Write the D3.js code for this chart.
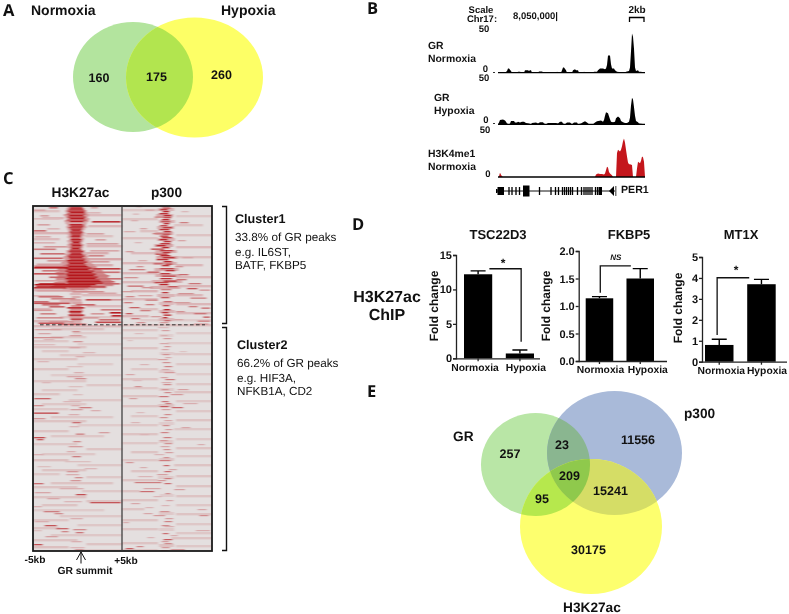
<!DOCTYPE html>
<html><head><meta charset="utf-8">
<script src="https://cdn.jsdelivr.net/npm/d3@7/dist/d3.min.js"></script>
<style>
html,body{margin:0;padding:0;background:#fff}
svg{display:block;filter:blur(0.3px)}
text{font-family:"Liberation Sans",Arial,sans-serif;fill:#111;text-rendering:geometricPrecision}
.b{font-weight:700}
.letter{font-family:"Open Sans",sans-serif;font-weight:700;font-size:16.5px;fill:#111}
</style></head><body>
<svg id="c" width="789" height="614"></svg>
<script>
// ---------- Panel A / E venn counts ----------
const vennALabels=["160","175","260"];
const vennENumbers=["257","23","11556","209","95","15241","30175"];

// ---------- Panel B tracks [position, signal] ----------
const grNormoxia=[[0,0],[7,0],[9,2],[10,5],[11,5],[13,2],[14,0],[19,0],[20,1],[22,1],[24,0],[26,0],[27,3],[30,3],[31,2],[32,3],[33,3],[34,0],[40,0],[41,1.5],[44,1.5],[46,0],[58,0],[59,1],[61,0],[63,0],[64,3],[65,6],[66,6],[68,3],[69,0],[74,0],[75,3],[77,4],[78,3],[80,3],[81,0],[85,0],[86,1],[88,0],[95,0],[96,1],[99,1],[100,3],[102,5],[105,5],[107,4],[108,5],[109,9],[110,20],[112,20],[113,10],[114,5],[116,5],[117,3],[119,1],[127,0],[128,1],[131,2],[132,6],[133,25],[134,46],[135,42],[136,28],[137,6],[138,2],[140,3],[141,1],[143,1],[147,0]];
const grHypoxia=[[0,0],[1,2],[2,5],[5,5.5],[7,4.5],[8,3],[9,1],[11,0],[12,1],[13,4],[16,4],[17,2],[19,2],[20,3],[22,2],[24,3],[26,3],[28,1.5],[31,1],[33,0],[34,1.5],[38,2],[40,1],[42,2.5],[45,2.5],[46,1],[48,0],[50,1.5],[58,1.5],[60,1],[62,3],[64,3],[65,1],[67,0],[69,2],[72,2],[74,0],[76,2],[79,2],[80,0],[83,1],[85,2.5],[87,3.5],[89,2],[91,0],[95,0],[97,2],[99,3.5],[103,4.5],[105,3],[106,5],[107,10],[108,14],[110,13],[112,6],[113,3],[115,2.5],[117,3],[118,7],[120,9],[122,7],[123,4],[125,2.5],[127,1.5],[129,1.5],[131,3],[132,8],[133,22],[134,31],[135,29],[136,20],[137,10],[138,4],[140,2.5],[141,1],[147,0]];
const h3k4me1=[[0,0],[0.8,0],[1.5,3],[2,5],[3,2.5],[4,1],[5,0],[97,0],[98,3],[100,4],[102,3.5],[104,3.5],[106,3],[107,4],[108,8],[109,12],[110,11],[111,6],[112,4],[114,2],[115,0],[118,0],[119,28],[120,32],[122,30],[123,32],[124,36],[125,42],[126,45],[127,40],[128,32],[129,24],[130,17],[131,15],[132,15],[134,14],[135,0],[138,0],[139,10],[140,18],[141,17],[142,16],[143,19],[144,24],[145,23],[146,18],[147,0]];
// gene model exons in track positions
const perThickExons=[[-2,-0.5],[-0.5,6]];
const perTicks=[11,14,18,21.5,41.5,53,57.5,60.5,64.5,66.5,68.5,70.5,72.5,74.5,79.5,83.5,86,88,90,92,94,97.5,99.5];
const perBox=[[25,31.5]];

// ---------- Panel C heatmap streaks [row, fromKb, toKb, intensity] ----------
const h3Halo=[[0,-1.5,1,.4],[2,-1.6,1.2,.45],[4,-1.7,1.4,.5],[6,-1.6,1.5,.45],[8,-1.9,1.6,.5],[10,-1.7,1.5,.5],[12,-1.6,1.7,.45],[14,-1.8,1.6,.5],[16,-1.7,1.4,.4],[18,-1.5,1.3,.5],[20,-1.6,1.4,.45],[22,-1.5,1.2,.4],[24,-1.4,1,.45],[26,-1.6,1.2,.4],[28,-1.4,1.1,.45],[30,-1.5,1,.35],[32,-1.3,1.1,.4],[34,-1.5,1,.4],[36,-1.4,.9,.35],[38,-1.5,1.1,.45],[40,-1.5,1,.4],[42,-1.3,.9,.4],[44,-1.6,1.2,.45],[46,-1.6,1.2,.4],[48,-1.7,1.4,.5],[50,-1.9,1.5,.5],[52,-1.8,1.6,.5],[54,-2,1.7,.55],[56,-2.2,2,.5],[58,-2,2.2,.55],[60,-2.4,2.5,.6],[62,-2.6,3,.6],[64,-2.4,3.2,.6],[66,-2.8,3.4,.6],[68,-2.6,3.6,.65],[70,-2.6,3.8,.65],[72,-2.8,4,.6],[74,-2.6,4.2,.65],[76,-3,4.2,.65],[78,-3,4.4,.6],[80,-3.4,3.6,.6],[82,-2,2.4,.4],[84,-1.5,1.5,.25],[87,-1.2,.8,.3],[90,-1,.7,.35],[93,-1.2,.8,.4],[96,-1,.9,.4],[99,-1.1,.8,.5],[102,-1.2,.9,.55],[104,-1.3,1,.55],[106,-1.2,.8,.6],[108,-1.4,1,.55],[110,-1.2,.8,.45],[112,-1.1,.9,.45],[114,-1,.8,.35],[116,-1.2,.8,.3]];
const h3Cluster1Core=[[0,-.9,.5,.85],[1.5,-1,.7,.95],[3,-1.1,.8,.8],[4.5,-1.2,.9,.9],[6,-1,.9,.95],[7.5,-1.3,1,.75],[9,-1.1,.8,.95],[10.5,-1.2,1,.85],[12,-1,.9,.95],[13.5,-1.3,1.1,.7],[15,-1,.8,.95],[16.5,-1.1,.8,.25],[18,-1,.7,.9],[19.5,-.9,.8,.95],[21,-1.1,.7,.8],[22.5,-.9,.6,.95],[24,-.8,.5,.85],[25.5,-1,.7,.95],[27,-.9,.6,.8],[28.5,-.8,.5,.95],[30,-.9,.5,.9],[31.5,-.8,.4,.7],[33,-.9,.6,.95],[34.5,-.8,.5,.9],[36,-.7,.4,.95],[37.5,-.9,.5,.85],[39,-.8,.6,.95],[40.5,-.9,.5,.8],[42,-.8,.4,.95],[43.5,-1,.6,.9],[45,-1.1,.8,.85],[46.5,-.9,.6,.95],[48,-1,.7,.9],[49.5,-1.2,.9,.95],[51,-1.1,.7,.9],[52.5,-1,1,.85],[54,-1.3,.9,.95],[55.5,-1.2,1.2,.9],[57,-1.1,.9,.95],[58.5,-1.3,1.1,.85],[60,-1.2,1.3,1],[61.5,-1.5,1.7,.95],[63,-1.3,1.4,1],[64.5,-1.5,2,.9],[66,-1.2,1.8,1],[67.5,-1.4,2.2,.95],[69,-1.3,2,1],[70.5,-1.2,2.4,.95],[72,-1.5,2.2,1],[73.5,-1.2,2.6,.9],[75,-1.3,2.8,1],[76.5,-1.2,3,.95],[78,-5,2.2,1],[79.5,-4.8,1.6,1],[81,-1.2,1.4,.7],[82.5,-.9,.9,.5]];
const h3Cluster1Side=[[1,-3.2,-2.2,.5],[1,1.5,2.3,.25],[3.5,-5,-3.6,.3],[6,1.2,2.6,.2],[9,-4.2,-3.2,.3],[12,-5,-2,.18],[15,1.6,4.9,.85],[18,-4.5,-3.1,.3],[22,-3.4,-2,.2],[24,-5,-3.5,.55],[27,1,3,.3],[30,-4.8,-3,.25],[33,2,3.2,.3],[36,-5,-2.5,.22],[37,1,4.6,.3],[40,-3.8,-1.2,.35],[42.5,-5,-2.4,.5],[44,1.4,4.7,.28],[47,-4.2,-1.4,.55],[49,1.2,3,.45],[51.5,-5,-1.6,.6],[54,-3.4,-1.5,.35],[55,1.4,3.6,.35],[57.5,-4.6,-1.5,.3],[59.5,-4.9,-1.2,.55],[61,-5,-1,.95],[62,1.7,4.9,.8],[64,-4,-1.5,.5],[65.5,2,4.8,.55],[67,-5,-1.4,.7],[69,2,3.6,.5],[70.5,-3.2,-1.2,.6],[72,2.2,5,.55],[74,-4.8,-1.5,.3],[75,2.8,4.2,.6],[77,-4.4,-1.3,.8],[77,3,4.8,.6],[80,1.4,3.2,.7],[81,-5,-1.2,.85],[84,-4.6,-.2,.3],[85,-.6,3,.4],[86.5,1.2,4.4,.28],[89,-5,-2,.22],[90,-4.4,-1.6,.55],[92,-3,-.2,.45],[93,.9,3.8,.75],[93,3.8,5,.35],[95,-5,-3.2,.55],[96.5,-5,-.8,.7],[98,-.2,2,.6],[98,-4,-2,.55],[100,-3.2,-1.4,.6],[101,-1.2,.8,.85],[103,2.6,5,.5],[103.5,-5,-2.8,.35],[105,-1,.5,.95],[106,3.6,5,.95],[107,-4.2,-2.4,.45],[107,1.5,3,.35],[108.5,-1,.8,.85],[109,3.8,5,.9],[111,-4.6,-1.6,.4],[111,.6,2.4,.35],[112.5,-.8,.6,.75],[113,2.4,4.8,.55],[115,-3.2,-.4,.35],[115.5,2,5,.75],[116.5,-4.4,-1.5,.7],[117.5,-2,1,.6]];
const h3Cluster2=[[123,-4.8,-1.8,.4],[125,-.6,.3,.5],[127,-4.4,-3,.35],[129,-.9,.5,.4],[131,-5,-1.6,.5],[133,-3.8,-2.6,.25],[135,-.5,.6,.45],[138,-5,-2.5,.22],[141,-.9,.3,.35],[146,.6,2,.25],[150,-.2,.8,.3],[155,-4.5,-3.2,.25],[160,-1.2,.6,.2],[166,-.4,.7,.3],[170,-1.2,.6,.35],[172,-.3,1,.5],[176,-4,-3,.25],[180,-1,.6,.2],[188,-.5,.6,.2],[192,-4.9,-3,.75],[195,-1.6,.4,.25],[199,-5,-3.8,.5],[199,-.7,.3,.3],[201,.2,1.6,.6],[203,-.8,.6,.4],[204,1.5,2.6,.3],[206.5,-5,-2.1,.95],[208,-1,.2,.3],[212,-5,-3.6,.45],[216,-.6,.4,.7],[220,-.9,.2,.25],[226,2.4,3.6,.4],[227.5,-.2,.8,.6],[231,-5,-3.6,.9],[233,-4.6,-3.8,.8],[235,-.5,.4,.5],[240,-1,.6,.4],[245,-1.2,-.2,.3],[248,-5,-3.8,.3],[250,-.6,.4,.6],[255,-1.4,1.5,.2],[260,-4.5,-3,.2],[262,.8,2.2,.25],[265,-1.2,.1,.45],[268,-1.3,.2,.3],[271,-.3,.6,.5],[274,-.8,.4,.45],[277,-5,-3.8,.7],[282,-2,.7,.3],[286,-4.8,-3,.35],[288,-.2,1,.9],[292,-3.4,-2,.35],[295,-1.5,.5,.25],[296,1.4,4.9,.85],[300,-5,-4,.3],[305,-3.8,-2,.6],[307,-2.6,-1.6,.5],[312,-.8,.6,.3],[315,-4.8,-3.2,.3],[319,-3.7,-2.3,.85],[322,-2.4,-1,.75],[323,-.5,1,.5],[324,-5,-4,.2],[325,-1.8,-1,.55],[326,-.2,.7,.65],[330,-3.6,-2.2,.4],[335,-.7,.5,.3],[338,-5,-3.9,.9],[341,-.8,.8,.25],[343,-.3,.7,.4]];
const p3Halo=[[2,-1.1,.9,.3],[8,-1.3,.8,.35],[14,-1,1,.3],[20,-1.2,.9,.35],[26,-1.4,.8,.35],[32,-1.2,1,.3],[38,-1.5,.8,.4],[44,-1.4,1.2,.35],[50,-1.3,1.3,.4],[56,-1.6,1.2,.35],[62,-1.5,1.4,.35],[68,-1.4,1.6,.35],[74,-1.8,1.8,.35],[80,-2,1.6,.35],[88,-1.2,1,.3],[96,-1,.9,.25],[104,-1,1,.3],[112,-1,.9,.3],[128,-1,.8,.12],[146,-.9,.9,.14],[164,-1,.9,.16],[182,-1,.9,.15],[198,-1.1,.9,.2],[216,-1,.9,.14],[234,-1,.8,.15],[252,-1,.9,.18],[270,-1.1,.9,.15],[288,-.9,.9,.14],[306,-1,.9,.16],[322,-1,.9,.15],[338,-1,.9,.2]];
const p3Cluster1=[[0,-.6,.3,.5],[0,-3.4,-2.8,.3],[1.5,-.5,.4,.7],[3,-.8,.1,.85],[3.5,-2.4,-1.4,.3],[5,-.5,.3,.95],[5,1.6,2.4,.2],[7,-.9,.2,.9],[7.5,-3.8,-3.1,.2],[9,-.4,.5,.95],[10.5,-1.4,-.3,.5],[11,-.4,.5,.75],[13,-.6,.3,.95],[14,-4,-3.2,.25],[15,-.7,.4,.7],[16,1.4,2.4,.5],[17,-.4,.3,.9],[19,-.8,.1,.75],[21,-.5,.6,.85],[22,-3,-2.2,.3],[23,-.9,.3,.9],[25,-.4,.5,.9],[25,-4.8,-3.5,.25],[27,-1.6,-.5,.5],[27.5,-.5,.4,.8],[29.5,-.8,.2,.9],[31,-.6,.6,.85],[33,-.9,.1,.95],[34,1.2,2.1,.3],[35,-.4,.5,.9],[36,-3.6,-2.8,.2],[37,-.8,.4,.85],[39,-1.2,-.1,.95],[41,-.6,.3,.95],[42.5,-1.8,-.3,.8],[44,-.8,.7,.85],[45,-4.6,-3.7,.35],[46,-.5,.4,.9],[47.5,-1.3,.1,.85],[49,-.8,.4,.95],[51,-.5,.9,.9],[51,1.7,2.9,.3],[53,-1.2,.2,.9],[54,-3.2,-2.2,.25],[55,-.4,.6,.95],[57,-1.5,-.4,.6],[57.5,-.2,.6,.85],[59,-.6,.3,.9],[60,-3.4,-2.6,.4],[60,.9,1.8,.4],[62,-.8,.8,.8],[63,-4.2,-2.4,.5],[64,-.2,.9,.9],[65.5,-2.2,-.8,.7],[67,-.8,.4,.85],[68,1.3,2.4,.6],[69.5,-.6,1,.8],[71,-4.8,-3.2,.4],[72,-.8,.6,.9],[73,1,2.2,.55],[74.5,-.4,1.1,.9],[76,-1.4,.2,.8],[77,2.4,3.8,.55],[78,-.9,.2,.95],[79.5,-4.4,-2.6,.6],[80,.1,1.2,.7],[81,-2.8,-1.6,.4],[82,2.2,3.4,.7],[83,-.7,.5,.5],[83.5,3.6,4.8,.4],[85,-5,-3.8,.35],[86,-.6,.2,.85],[87,1.2,3,.4],[89,-3.2,-1.6,.3],[90,-4.6,-3.6,.45],[91,-.7,.3,.7],[91.5,2.6,4.4,.5],[93.5,-2.4,-1,.5],[95,-.4,.6,.6],[96,-4.8,-3.8,.5],[96,.8,2.6,.35],[98,-2.4,-1.4,.5],[99,-.5,.3,.75],[100,2.4,3.4,.5],[101,-4.2,-3,.65],[101.5,3.8,4.8,.6],[103,-.4,.4,.95],[104,-3,-1.8,.5],[105,1,2,.4],[106,-.6,.2,.9],[107,-4.6,-3.8,.7],[107,3,4.4,.55],[108.5,-.4,.5,.95],[110,-1.8,-.6,.35],[110.5,4,4.8,.7],[111,-.5,.1,.9],[112,-4,-3,.55],[113,.8,1.8,.3],[114,-.3,.4,.6],[114.5,3.4,4.8,.5],[116,-3.4,-2.4,.4],[116,-.8,.2,.35],[117.5,3,4.6,.4]];
const p3Cluster2=[[121,-1,.2,.25],[124,-.6,.3,.45],[127,-3.6,-2.6,.25],[129,-.7,.1,.35],[132,-.4,.5,.5],[134,-4.4,-3.8,.2],[137,-.8,.2,.4],[140,-.3,.4,.5],[143,-.6,.2,.4],[145,1.4,2.2,.2],[148,-.5,.3,.55],[151,-.2,.5,.35],[153,-1,.1,.45],[156,-.5,.4,.55],[158,-3,-2,.3],[160,-.3,.6,.65],[163,-.6,.3,.4],[166,-.3,.9,.5],[168,-4.6,-3.6,.4],[171,-.7,.1,.45],[173,-.2,.9,.7],[174,-3.8,-2.8,.25],[176,-.6,.5,.35],[178,-.4,.5,.6],[180,-3.6,-2.8,.55],[183,-.6,.2,.55],[183,1.2,2.4,.45],[186,-.3,.5,.6],[188,.4,1.8,.5],[190,-.9,.2,.75],[192,-4.2,-3.3,.45],[195,-.6,.2,.75],[197,-.2,.5,.7],[197,1.8,3.4,.35],[200,-.8,.2,.95],[201,.5,1.8,.85],[203,-.6,.4,.45],[206,-3.4,-2.5,.25],[208,-.3,.5,.6],[211,-.8,.1,.55],[214,-.3,.6,.4],[216,-4,-3,.3],[219,-.5,.3,.6],[221,1.6,2.6,.4],[223,-.2,.6,.45],[226,-.7,.2,.65],[228,-3,-2,.3],[231,-.4,.5,.7],[234,-.8,.1,.5],[237,-.3,.6,.55],[238,3.4,4.2,.35],[240,-.7,.3,.4],[243,-.4,.4,.55],[246,-.2,.7,.45],[248,-1.4,-.3,.3],[251,-.4,.3,.55],[254,-.9,.4,.7],[256,-4.6,-3.7,.5],[259,-.4,.3,.85],[261,-3,-2.2,.35],[263,.2,1.1,.4],[265,-.3,.5,.8],[268,-1.1,.1,.45],[270,-3.2,-1.6,.3],[272,-.3,.5,.7],[274,-1,-.1,.5],[276,-3.6,-.6,.7],[277,-.3,.5,.8],[282,-2.6,-.7,.4],[283,.8,2,.45],[285,-3,-1.4,.8],[287,-.2,.4,.55],[290,-1.5,-.6,.3],[294,-.1,.7,.4],[297,-4,-3,.4],[299,-.6,.3,.3],[301,-2.4,-1.5,.3],[303,3.4,4.4,.4],[305,-.8,.3,.55],[307,-2.6,-1.6,.4],[309,-1.5,-.2,.5],[309,3.6,4.6,.6],[312,-.2,.7,.45],[315,-.3,.6,.65],[316,-4.9,-4.2,.35],[319,-.6,.3,.6],[320,-.3,.8,.35],[324,3.2,4.8,.35],[327,-.5,.2,.8],[329,.4,1.2,.35],[331,-2.2,-1.4,.3],[333,-.4,.6,.95],[335,-.6,.2,.45],[337,-.3,.6,.6],[340,-3.4,-2.6,.6],[341,-.6,.3,.5],[342,-4.6,-3.7,.9],[343,.4,2,.5],[344,-.8,.2,.7]];
// faint mottled rows read from the grey background
const faintH=[[4,-5,-2,.15],[8,1,5,.18],[11,-4,-1.5,.2],[19,1.2,5,.2],[26,-5,-1,.22],[29,.8,4,.15],[32,-5,-2,.18],[39,1,5,.2],[46,.9,3.5,.25],[52,1,5,.28],[58,1,4,.25],[83,-5,-1,.2],[88,.5,5,.18],[94,-2,.5,.2],[99,1,5,.18],[102,-5,-3,.2],[110,-2,5,.14],[114,-5,-1,.2],[119,-5,5,.18],[122,-3,3,.14],[126,-.5,5,.1],[130,-3,1,.12],[134,-5,-1,.12],[137,0,5,.1],[140,-5,1,.14],[144,-4,-1,.12],[148,-2,5,.12],[152,-5,0,.14],[157,0,4,.1],[162,-5,-1,.14],[168,-3,5,.1],[174,-5,1,.13],[178,1,5,.12],[183,-4,0,.12],[187,-5,-2,.14],[193,-1,5,.12],[197,-4,1,.12],[202,-5,-1,.12],[210,-3,4,.12],[214,-5,1,.14],[218,0,5,.1],[224,-5,-1,.14],[229,-3,3,.12],[237,-5,0,.12],[242,1,5,.14],[247,-4,2,.12],[253,-5,-1,.16],[258,0,5,.12],[263,-4,1,.14],[267,-5,-2,.12],[270,1,5,.12],[276,-3,4,.14],[280,-5,0,.14],[284,.5,5,.12],[290,-5,1,.14],[294,1,5,.14],[298,-4,0,.14],[303,-5,3,.1],[309,-2,5,.12],[313,-5,-1,.13],[318,0,5,.12],[321,-5,-2,.14],[328,-3,5,.12],[333,-5,0,.14],[337,1,5,.14],[340,-5,-1,.16],[343,0,5,.1]];
const faintP=[[3,-5,-1,.12],[9,1,5,.12],[12,-5,-1,.14],[18,.8,4,.14],[24,-3,-1,.15],[28,1,5,.14],[31,-5,-1,.15],[40,1,5,.18],[46,-4,-1,.18],[50,1,5,.16],[56,-5,-1,.2],[58,1,4,.2],[66,-5,-1,.2],[70,1,5,.2],[75,-5,-1,.18],[79,1.2,5,.2],[84,-4,-1,.22],[88,1,4,.2],[92,-5,-1,.18],[97,1,5,.2],[102,-3,-1,.16],[106,1,5,.18],[109,-5,-2,.2],[113,-3,5,.1],[118,-5,5,.16],[123,-5,-1,.12],[126,1,5,.1],[131,-5,-1,.12],[136,0,5,.1],[141,-5,-1,.14],[147,.7,5,.12],[152,-5,-1,.12],[157,1,5,.12],[162,-4,-1,.12],[167,1,5,.1],[172,-5,-1,.14],[177,1,5,.12],[181,-5,-1,.12],[185,.8,5,.14],[189,-5,-1,.14],[194,1,5,.12],[199,-5,-1,.14],[204,1,5,.12],[209,-4,-1,.12],[213,1,5,.14],[218,-5,-1,.12],[222,.8,5,.12],[227,-5,-1,.14],[232,1,5,.12],[236,-5,-1,.12],[241,1,5,.14],[245,-4,-1,.14],[249,1,5,.12],[253,-5,-1,.12],[258,.8,5,.14],[264,-4,-1,.14],[269,1,5,.14],[273,-5,-1,.14],[279,1,5,.14],[284,-5,-3,.14],[289,1,5,.14],[293,-5,-1,.14],[298,1,5,.12],[302,-5,-2.5,.14],[307,1,5,.14],[313,-5,-1,.14],[317,1,5,.12],[322,-5,-1,.14],[326,1,5,.12],[331,.5,5,.14],[336,-5,-1,.14],[339,1,5,.12],[343,-5,-1,.12]];

// ---------- Panel D bars ----------
const barCategories=["Normoxia","Hypoxia"];
const barTitles=["TSC22D3","FKBP5","MT1X"];
const barValues=[[12.2,0.7],[1.14,1.5],[0.8,3.7]];
const barErrors=[[12.7,1.2],[1.17,1.68],[1.07,3.93]];
const barYMax=[15,2,5];
const barTickValues=[[0,5,10,15],[0,.5,1,1.5,2],[0,1,2,3,4,5]];
const barSignif=["*","NS","*"];

// ---------- drawing ----------
const svg=d3.select("#c");
const defs=svg.append("defs");
const f=defs.append("filter").attr("id","soft").attr("x","-5%").attr("y","-5%").attr("width","110%").attr("height","110%");
f.append("feGaussianBlur").attr("stdDeviation","0.9 0.4");
defs.append("clipPath").attr("id","heatClip").append("rect").attr("x",33).attr("y",206).attr("width",179).attr("height",345);
let clipN=0;
function txt(p,s,x,y,size,bold,anchor){
  return p.append("text").text(s).attr("x",x).attr("y",y).attr("font-size",size)
    .attr("class",bold?"b":null).attr("text-anchor",anchor||"start").attr("dominant-baseline","middle");
}
function clipFor(e){
  const id="cl"+(clipN++);
  defs.append("clipPath").attr("id",id).append("ellipse").attr("cx",e.cx).attr("cy",e.cy).attr("rx",e.rx).attr("ry",e.ry);
  return id;
}
function regionFill(sets,color){
  let g=svg;
  sets.slice(1).forEach(e=>{g=g.append("g").attr("clip-path",`url(#${clipFor(e)})`);});
  const e=sets[0];
  g.append("ellipse").attr("cx",e.cx).attr("cy",e.cy).attr("rx",e.rx).attr("ry",e.ry).attr("fill",color);
}
for(const [l,x,y] of [["A",3,12],["B",367,10],["C",3,180],["D",352,226],["E",367,393]])
  svg.append("text").attr("class","letter").text(l).attr("x",x).attr("y",y).attr("dominant-baseline","middle");

// A
const aG={cx:133,cy:77,rx:60,ry:55},aY={cx:194.5,cy:77.5,rx:68.5,ry:60};
regionFill([aG],"#b3e49e");regionFill([aY],"#fdff66");regionFill([aG,aY],"#b2e54f");
txt(svg,"Normoxia",31,11.5,14,1);txt(svg,"Hypoxia",221,11.5,14,1);
[[99,79],[156.5,78],[221.5,76]].forEach((p,i)=>txt(svg,vennALabels[i],p[0],p[1],12.5,1,"middle"));

// E
const eG={cx:535.5,cy:464.5,rx:54.5,ry:51.5},eB={cx:614.5,cy:453,rx:67.5,ry:62},eY={cx:591,cy:526.5,rx:71,ry:67.5};
regionFill([eG],"#b9e6a6");regionFill([eB],"#a9bad9");regionFill([eY],"#fdff6e");
regionFill([eG,eB],"#8ab690");regionFill([eG,eY],"#b6e84d");regionFill([eB,eY],"#d5dd66");regionFill([eG,eB,eY],"#8fc94c");
[[510,455],[562,445.5],[638,440.5],[569.5,476.5],[542,500],[610.5,491.5],[588.5,551]].forEach((p,i)=>txt(svg,vennENumbers[i],p[0],p[1],12.5,1,"middle"));
txt(svg,"GR",453,437,13.7,1);txt(svg,"p300",684,414.5,13.7,1);txt(svg,"H3K27ac",563,608,13.7,1);

// B
const bX=d3.scaleLinear().domain([0,147]).range([498,645]);
const tracks=[[grNormoxia,72.7,"#000"],[grHypoxia,124.3,"#000"],[h3k4me1,177,"#c4161c"]];
tracks.forEach(([d,base,col])=>{
  const y=d3.scaleLinear().domain([0,50]).range([base,base-42.7]);
  svg.append("path").datum(d).attr("fill",col)
    .attr("d",d3.area().x(p=>bX(p[0])).y0(y(0)).y1(p=>y(p[1])));
  svg.append("line").attr("x1",bX(0)).attr("x2",bX(147)).attr("y1",base).attr("y2",base).attr("stroke","#000").attr("stroke-width",1.3);
});
txt(svg,"Scale",481,10.5,9.5,1,"middle");txt(svg,"Chr17:",482,19.5,9.5,1,"middle");
txt(svg,"8,050,000|",513,16,9.5,1);txt(svg,"2kb",637,10,10,1,"middle");
svg.append("path").attr("d","M629.5,22V17.5H644V22").attr("fill","none").attr("stroke","#000").attr("stroke-width",1.3);
[["50",484,29],["0",485.5,69],["50",484,78],["0",486,120],["50",485,130],["0",488,174]].forEach(d=>txt(svg,d[0],d[1],d[2],9.5,1,"middle"));
[[493,72],[493,123]].forEach(p=>svg.append("rect").attr("x",p[0]).attr("y",p[1]).attr("width",2).attr("height",1).attr("fill","#333"));
[["GR",428,46],["Normoxia",428,59],["GR",434,98],["Hypoxia",434,111],["H3K4me1",428,154],["Normoxia",428,167]].forEach(d=>txt(svg,d[0],d[1],d[2],10.4,1));
const gene=svg.append("g");
gene.append("line").attr("x1",bX(-2)).attr("x2",bX(118)).attr("y1",191).attr("y2",191).attr("stroke","#111").attr("stroke-width",1);
gene.selectAll(".t").data(perTicks).join("rect").attr("x",d=>bX(d)-.65).attr("width",1.3).attr("y",187).attr("height",8).attr("fill","#000");
gene.selectAll(".bx").data(perBox).join("rect").attr("x",d=>bX(d[0])).attr("width",d=>bX(d[1])-bX(d[0])).attr("y",185.5).attr("height",11).attr("fill","#000");
gene.selectAll(".th").data(perThickExons).join("rect").attr("x",d=>bX(d[0])).attr("width",d=>bX(d[1])-bX(d[0])).attr("y",(d,i)=>i?187:189).attr("height",(d,i)=>i?8:4).attr("fill","#000");
gene.append("rect").attr("x",bX(100.5)).attr("width",3.5).attr("y",187).attr("height",8).attr("fill","#000");
gene.append("path").attr("d",`M${bX(111)},191L${bX(116)},186V196Z`).attr("fill","#000");
gene.append("rect").attr("x",bX(117)).attr("width",1.5).attr("y",186).attr("height",10).attr("fill","#777");
txt(svg,"PER1",621,190,10.6,1);

// C
const heatTop=206,heatBottom=551;
const heatY=d3.scaleLinear().domain([0,345]).range([heatTop,heatBottom]);
const xH=d3.scaleLinear().domain([-5,5]).range([33,122]);
const xP=d3.scaleLinear().domain([-5,5]).range([122,212]);
const shade=d3.interpolateRgb("#e4dfdf","#b5141a");
const heatOuter=svg.append("g").attr("clip-path","url(#heatClip)");
const heat=heatOuter.append("g").attr("filter","url(#soft)");
heat.append("rect").attr("x",28).attr("y",heatTop-5).attr("width",189).attr("height",heatBottom-heatTop+10).attr("fill","#e4dfdf");
// gain dims a layer, inset narrows it on both sides (in kb)
function streaks(d,x,h,gain=1,inset=0){
  heat.append("g").selectAll("rect").data(d).join("rect")
    .attr("x",r=>x(r[1]+inset)).attr("width",r=>x(r[2]-inset)-x(r[1]+inset))
    .attr("y",r=>heatY(r[0])).attr("height",h)
    .attr("fill",r=>shade(r[3]*gain));
}
streaks(faintH,xH,2.4);streaks(faintP,xP,2.4);
streaks(h3Halo,xH,2.2,.7,.35);streaks(p3Halo,xP,3,.7,.1);
streaks(h3Cluster1Side,xH,1.6);streaks(h3Cluster1Core,xH,1.3,1,.1);streaks(h3Cluster2,xH,1.3,.8);
streaks(p3Cluster1,xP,1.3,.95);streaks(p3Cluster2,xP,1.2,.7);
svg.append("rect").attr("x",33).attr("y",206).attr("width",179).attr("height",345).attr("fill","none").attr("stroke","#1a1a1a").attr("stroke-width",1.8);
svg.append("line").attr("x1",122).attr("x2",122).attr("y1",206).attr("y2",551).attr("stroke","#333").attr("stroke-width",1.2);
svg.append("line").attr("x1",40).attr("x2",205).attr("y1",324.8).attr("y2",324.8).attr("stroke","#333").attr("stroke-width",1).attr("stroke-dasharray","3.6 2.4");
txt(svg,"H3K27ac",80.5,193,13.7,1,"middle");txt(svg,"p300",166.5,193,13.7,1,"middle");
svg.append("path").attr("d","M222,206.5H226.5V323.5H222M222,327.5H226.5V550.5H222").attr("fill","none").attr("stroke","#111").attr("stroke-width",1.4);
txt(svg,"Cluster1",235,220,12.6,1);
["33.8% of GR peaks","e.g. IL6ST,","BATF, FKBP5"].forEach((s,i)=>txt(svg,s,235,[238,252.5,266][i],11.7,0));
txt(svg,"Cluster2",237,346,12.6,1);
["66.2% of GR peaks","e.g. HIF3A,","NFKB1A, CD2"].forEach((s,i)=>txt(svg,s,237,[363.5,379,392][i],11.7,0));
txt(svg,"-5kb",35,560,10.2,1,"middle");txt(svg,"+5kb",126,561,10.2,1,"middle");txt(svg,"GR summit",85,571,10.3,1,"middle");
svg.append("path").attr("d","M81,563.5V552M76.5,560L81,552L85.5,560").attr("fill","none").attr("stroke","#111").attr("stroke-width",1);

// D
txt(svg,"H3K27ac",387,298,16,1,"middle");txt(svg,"ChIP",387,315.5,16,1,"middle");
const panels=[
 {ax:456,end:540,top:255,bot:358.3,bars:[464,534],foldX:435,foldY:306,tx:498,labelDx:[-3,6],labelY:368.5,
  bracket:[[.27,13],[1.03,13],[1.03,2.4]],sx:503,sy:264},
 {ax:578.7,end:667,top:251,bot:361,bars:[585.7,654],foldX:547,foldY:306,tx:629,labelDx:[1,7.5],labelY:370.5,
  bracket:[[.02,1.24],[.02,1.73],[.77,1.73]],sx:615.7,sy:258},
 {ax:702,end:787,top:257,bot:361.7,bars:[705,775.7],foldX:679,foldY:308,tx:741,labelDx:[2,5.5],labelY:371,
  bracket:[[-.05,1.28],[-.05,4.01],[.71,4.01]],sx:736,sy:271}
];
panels.forEach((p,i)=>{
  const g=svg.append("g");
  const y=d3.scaleLinear().domain([0,barYMax[i]]).range([p.bot,p.top]);
  const x=d3.scaleBand().domain(barCategories).range(p.bars).paddingInner(.325).paddingOuter(0);
  const cx=c=>x(c)+x.bandwidth()/2;
  g.selectAll(".bar").data(barCategories).join("rect")
    .attr("x",c=>x(c)).attr("width",x.bandwidth()).attr("y",(c,j)=>y(barValues[i][j])).attr("height",(c,j)=>p.bot-y(barValues[i][j])).attr("fill","#000");
  g.selectAll(".err").data(barCategories).join("path")
    .attr("d",(c,j)=>`M${cx(c)},${y(barValues[i][j])}V${y(barErrors[i][j])}M${cx(c)-7.5},${y(barErrors[i][j])}H${cx(c)+7.5}`)
    .attr("stroke","#000").attr("stroke-width",1.4).attr("fill","none");
  const ya=g.append("g").attr("transform",`translate(${p.ax},0)`).call(d3.axisLeft(y).tickValues(barTickValues[i]).tickFormat(i==1?d3.format(".1f"):d3.format("d")).tickSize(3).tickPadding(1));
  const xa=g.append("g").attr("transform",`translate(0,${p.bot})`).call(d3.axisBottom(x).tickSize(3).tickPadding(2));
  xa.select(".domain").attr("d",`M${p.ax},0.5H${p.end}`);
  [ya,xa].forEach(a=>{a.selectAll(".domain,line").attr("stroke","#222").attr("stroke-width",1.3);
    a.selectAll("text").attr("font-size",11).attr("font-weight",700).attr("font-family",'"Liberation Sans"').attr("fill","#111");});
  xa.selectAll("text").attr("dx",(c,j)=>p.labelDx[j]).attr("y",null).attr("dy",null).attr("dominant-baseline","middle")
    .attr("transform",`translate(0,${p.labelY-p.bot})`).attr("font-size",10.3);
  const bx=d3.scaleLinear().domain([0,1]).range([cx(barCategories[0]),cx(barCategories[1])]);
  g.append("path").datum(p.bracket).attr("d",d3.line().x(d=>bx(d[0])).y(d=>y(d[1]))).attr("fill","none").attr("stroke","#111").attr("stroke-width",1.3);
  const sg=txt(g,barSignif[i],p.sx,p.sy,i==1?8:12,1,"middle");
  if(i==1)sg.attr("font-style","italic");
  txt(g,barTitles[i],p.tx,235.5,13,1,"middle");
  g.append("text").text("Fold change").attr("class","b").attr("font-size",12).attr("text-anchor","middle").attr("dominant-baseline","middle")
    .attr("transform",`translate(${p.foldX},${p.foldY}) rotate(-90)`);
});
</script></body></html>
